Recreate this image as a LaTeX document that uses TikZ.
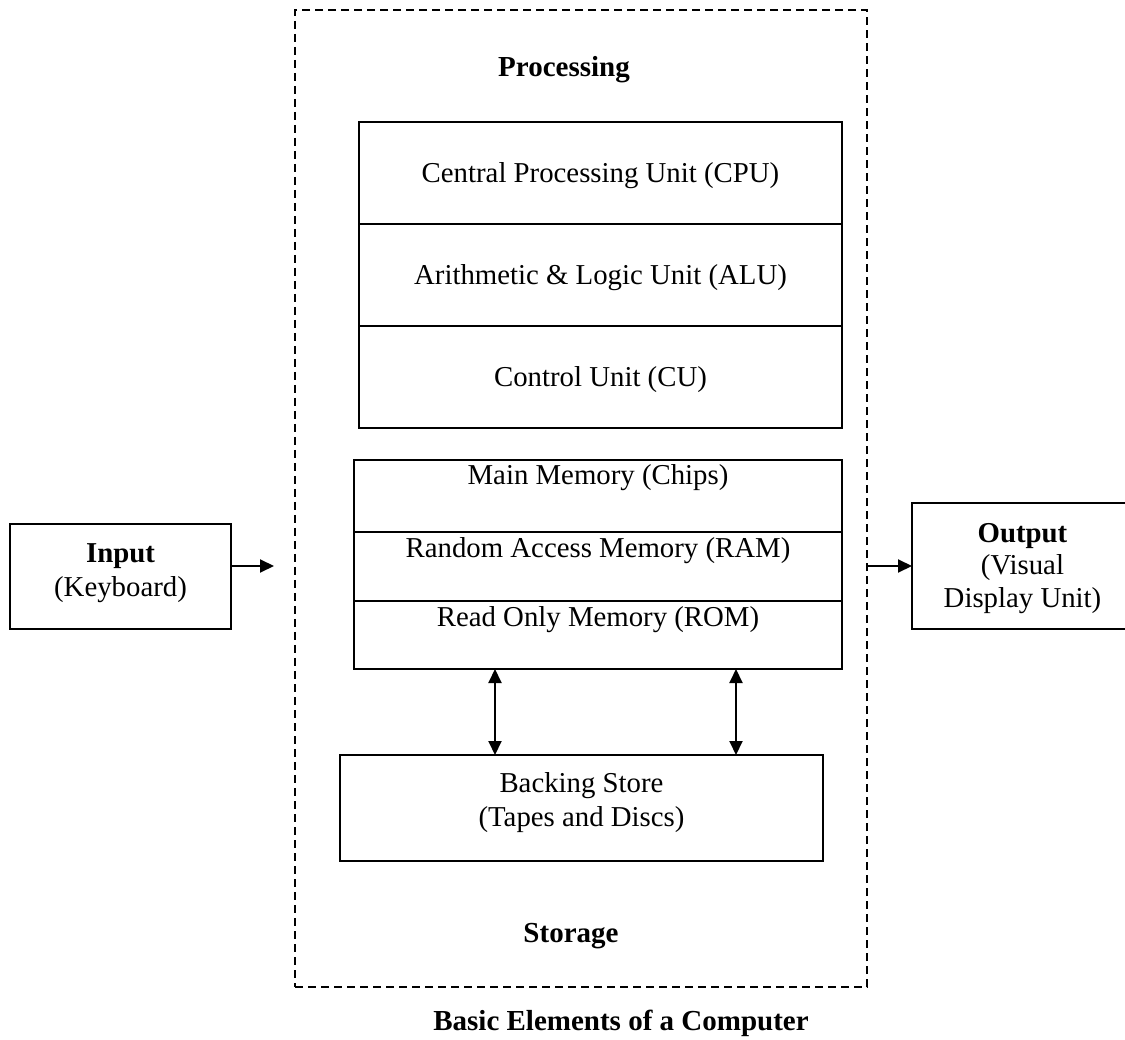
\documentclass[tikz,border=0pt]{standalone}
\usepackage{fontspec}
\setmainfont{Liberation Serif}
\usetikzlibrary{arrows.meta}
\begin{document}
\begin{tikzpicture}[x=1pt,y=-1pt,
  txt/.style={font=\fontsize{28.8}{34}\selectfont, inner sep=0pt, outer sep=0pt},
  btxt/.style={font=\fontsize{29}{34}\selectfont\bfseries, inner sep=0pt, outer sep=0pt},
  sect/.style={rectangle, inner sep=0pt, outer sep=0pt},
  framebox/.style={rectangle, draw, dash pattern=on 8pt off 5pt, line width=1.8pt, inner sep=0pt, outer sep=0pt},
  iobox/.style={rectangle, draw, line width=2pt, inner sep=0pt, outer sep=0pt},
  tip/.tip={Triangle[length=14pt,width=13pt]},
  arr/.style={line width=2pt, -tip},
  darr/.style={line width=2pt, tip-tip},
]
\useasboundingbox (0,0) rectangle (1125,1040);
\fill[white] (0,0) rectangle (1125,1040);

% dashed frame
\node[framebox, minimum width=572pt, minimum height=977pt] (frame) at (581,498.5) {};
\node[btxt, anchor=base] (proclabel) at (564,77) {Processing};
\node[btxt, anchor=base] (storelabel) at (571,942) {Storage};
\node[btxt, anchor=base] (caption) at (621,1030) {Basic Elements of a Computer};

% processing stack
\node[sect, minimum width=483pt, minimum height=102pt] (cpu) at (600.5,173) {};
\node[sect, minimum width=483pt, minimum height=102pt] (alu) at (600.5,275) {};
\node[sect, minimum width=483pt, minimum height=102pt] (cu) at (600.5,377) {};
\draw[line width=2.5pt] (cpu.north west) rectangle (cu.south east);
\draw[line width=1.5pt] (cpu.south west) -- (cpu.south east);
\draw[line width=2.2pt] (alu.south west) -- (alu.south east);
\node[txt, anchor=base] (cputxt) at ([yshift=-10pt]cpu.center) {Central Processing Unit (CPU)};
\node[txt, anchor=base] (alutxt) at ([yshift=-10pt]alu.center) {Arithmetic \& Logic Unit (ALU)};
\node[txt, anchor=base] (cutxt) at ([yshift=-10pt]cu.center) {Control Unit (CU)};

% memory stack
\node[sect, minimum width=488pt, minimum height=72pt] (mm) at (598,496) {};
\node[sect, minimum width=488pt, minimum height=69pt] (ram) at (598,566.5) {};
\node[sect, minimum width=488pt, minimum height=68pt] (rom) at (598,635) {};
\draw[line width=2.5pt] (mm.north west) rectangle (rom.south east);
\draw[line width=2.5pt] (mm.south west) -- (mm.south east);
\draw[line width=1.2pt] (ram.south west) -- (ram.south east);
\node[txt, anchor=base] (mmtxt) at ([yshift=-25pt]mm.north) {Main Memory (Chips)};
\node[txt, anchor=base] (ramtxt) at ([yshift=-25pt]ram.north) {Random Access Memory (RAM)};
\node[txt, anchor=base] (romtxt) at ([yshift=-25pt]rom.north) {Read Only Memory (ROM)};

% backing store
\node[iobox, minimum width=483pt, minimum height=106pt] (back) at (581.5,808) {};
\node[txt, align=center] (backtxt) at (581.5,803) {Backing Store\\(Tapes and Discs)};

\coordinate (ax1) at (495,0);
\coordinate (ax2) at (736,0);
\draw[darr] (rom.south -| ax1) -- (back.north -| ax1);
\draw[darr] (rom.south -| ax2) -- (back.north -| ax2);

% input
\node[iobox, minimum width=221pt, minimum height=105pt] (inbox) at (120.5,576.5) {};
\node[txt, align=center] (intxt) at (120.5,573) {\textbf{Input}\\(Keyboard)};
\coordinate (inend) at (274,566);
\draw[arr] (inbox.east |- inend) -- (inend);

% output
\node[iobox, minimum width=221pt, minimum height=126pt] (outbox) at (1022.5,566) {};
\node[txt, align=center, font=\fontsize{28.8}{32.5}\selectfont] (outtxt) at (1022.5,568.5) {\textbf{Output}\\(Visual\\Display Unit)};
\draw[arr] (frame.east |- outbox.west) -- (outbox.west);
\end{tikzpicture}
\end{document}
